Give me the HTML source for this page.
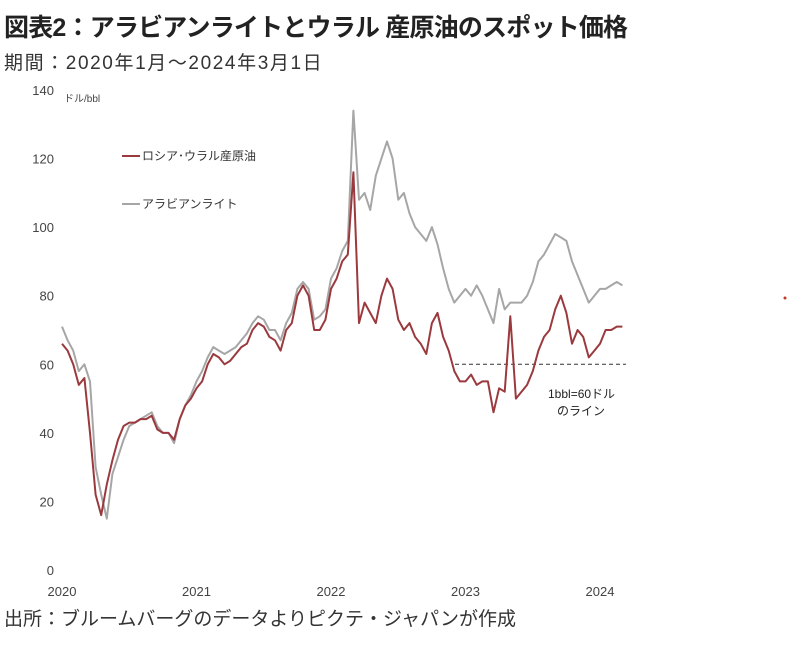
<!DOCTYPE html>
<html><head><meta charset="utf-8">
<style>
body{margin:0;background:#fff;width:788px;height:655px;overflow:hidden;font-family:"Liberation Sans","Noto Sans CJK JP",sans-serif;}
.title{position:absolute;left:4px;top:8px;font-size:25px;font-weight:bold;color:#222;letter-spacing:-0.8px}
.sub{position:absolute;left:4px;top:48px;font-size:19px;color:#333;letter-spacing:1.6px}
.foot{position:absolute;left:4px;top:604px;font-size:19px;color:#333}
svg{position:absolute;left:0;top:0}
</style></head><body>
<div class="title">図表2：アラビアンライトとウラル 産原油のスポット価格</div>
<div class="sub">期間：2020年1月～2024年3月1日</div>
<div class="foot">出所：ブルームバーグのデータよりピクテ・ジャパンが作成</div>
<svg id="chart" width="788" height="655"></svg>
<script>
const yTicks=[0,20,40,60,80,100,120,140];
const xTickLabels=["2020","2021","2022","2023","2024"];
const xTickMonths=[0,12,24,36,48];
const uralsValues=[66,64,60,54,56,40,22,16,25,32,38,42,43,43,44,44,45,41,40,40,38,44,48,50,53,55,60,63,62,60,61,63,65,66,70,72,71,68,67,64,70,72,80,83,80,70,70,73,82,85,90,92,116,72,78,75,72,80,85,82,73,70,72,68,66,63,72,75,68,64,58,55,55,57,54,55,55,46,53,52,74,50,52,54,58,64,68,70,76,80,75,66,70,68,62,64,66,70,70,71,71];
const arabValues=[71,67,64,58,60,55,30,22,15,28,33,38,42,43,44,45,46,42,40,40,37,44,48,51,55,58,62,65,64,63,64,65,67,69,72,74,73,70,70,67,72,75,82,84,82,73,74,76,85,88,93,96,134,108,110,105,115,120,125,120,108,110,104,100,98,96,100,95,88,82,78,80,82,80,83,80,76,72,82,76,78,78,78,80,84,90,92,95,98,97,96,90,86,82,78,80,82,82,83,84,83];
const refLevel=60;
const NS="http://www.w3.org/2000/svg";
const svg=document.getElementById('chart');
const yScale=v=>570-v*(480/140);
const xScale=m=>62+m*(538/48);
function mk(tag,attrs,txt){const e=document.createElementNS(NS,tag);for(const k in attrs)e.setAttribute(k,attrs[k]);if(txt!==undefined)e.textContent=txt;svg.appendChild(e);return e;}
yTicks.forEach(v=>{
 const t=mk('text',{x:54,y:yScale(v)+5,'text-anchor':'end','font-size':13,fill:'#444'},v);
 
 
});
xTickLabels.forEach((l,i)=>{
 const t=mk('text',{x:xScale(xTickMonths[i]),y:596,'text-anchor':'middle','font-size':13,fill:'#444'},l);
 
 
});
const u=mk('text',{x:64,y:102,'font-size':10,fill:'#444'},'ドル/bbl');


const ref=mk('line',{x1:455,x2:626,y1:yScale(refLevel),y2:yScale(refLevel),stroke:'#333','stroke-width':1,'stroke-dasharray':'4,3'});


function series(vals,color,name){
 const d=vals.map((v,i)=>(i?'L':'M')+xScale(i*0.5).toFixed(1)+','+yScale(v).toFixed(1)).join('');
 const p=mk('path',{d:d,fill:'none',stroke:color,'stroke-width':2,'stroke-linejoin':'round'});
 
 
}
series(arabValues,'#a6a6a6','arab-light-line');
series(uralsValues,'#9b3a3e','urals-line');
const a1=mk('text',{x:548,y:398,'font-size':12,fill:'#222'},'1bbl=60ドル');


const a2=mk('text',{x:557,y:415,'font-size':12,fill:'#222'},'のライン');


const l1=mk('line',{x1:122,x2:140,y1:156,y2:156,stroke:'#9b3a3e','stroke-width':2});


const t1=mk('text',{x:142,y:160,'font-size':12,fill:'#333'},'ロシア･ウラル産原油');


const l2=mk('line',{x1:122,x2:140,y1:204,y2:204,stroke:'#a6a6a6','stroke-width':2});


const t2=mk('text',{x:142,y:208,'font-size':12,fill:'#333'},'アラビアンライト');


const dot=mk('circle',{cx:785,cy:298,r:1.5,fill:'#c0392b'});


</script>
</body></html>
